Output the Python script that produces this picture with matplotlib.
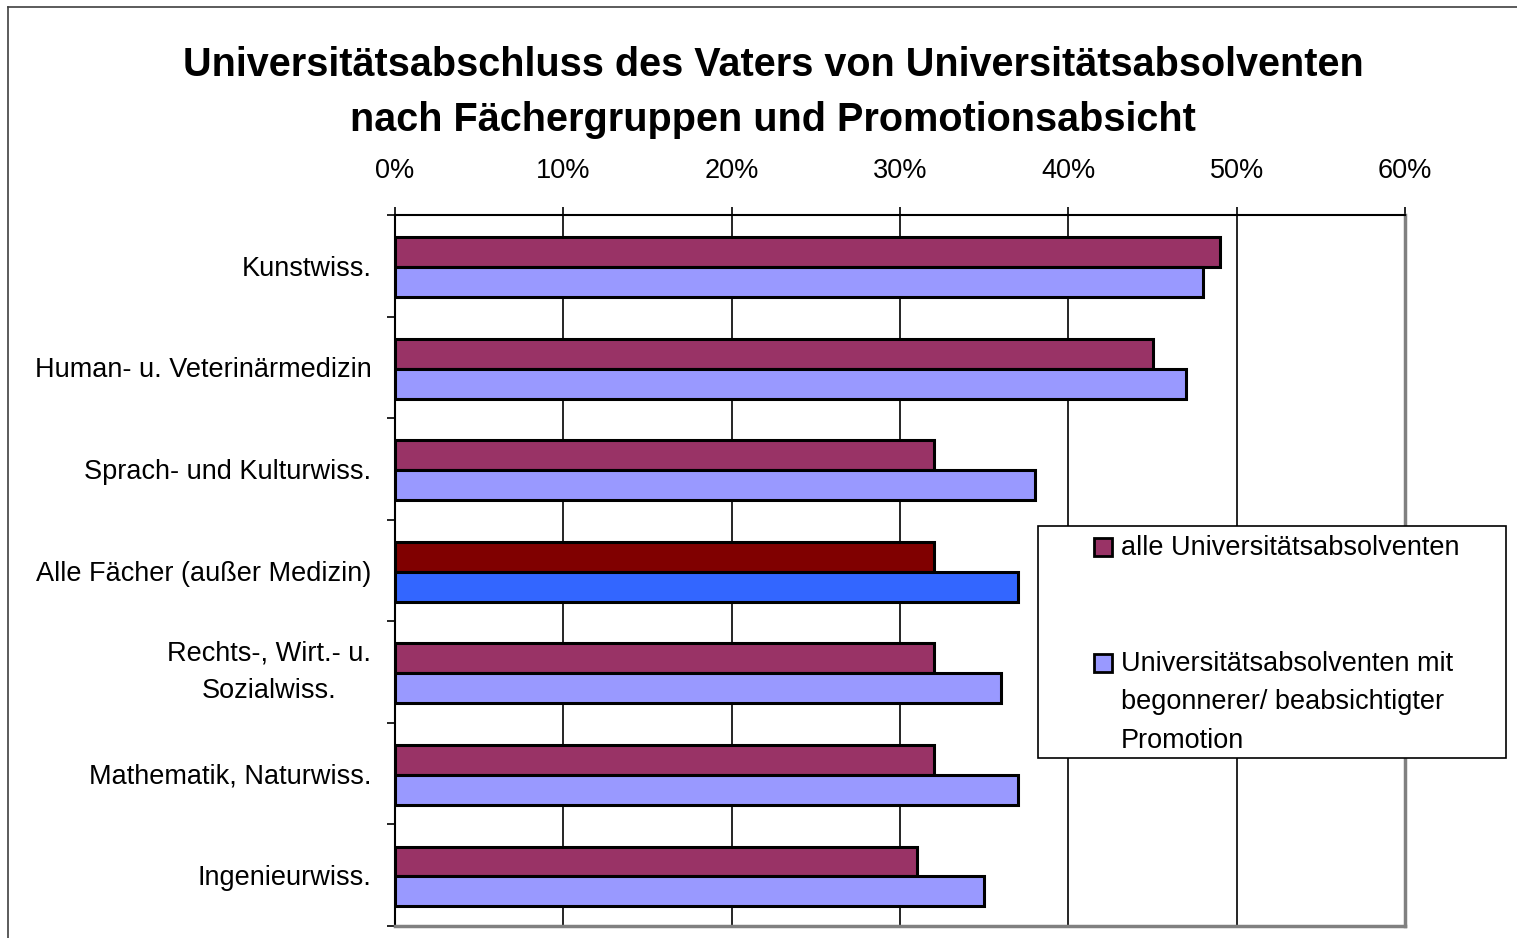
import numpy as np
import matplotlib.pyplot as plt
from matplotlib.patches import Rectangle
from matplotlib.lines import Line2D

plt.rcParams['font.family'] = ['Liberation Sans', 'DejaVu Sans']

categories = ['Kunstwiss.', 'Human- u. Veterinärmedizin', 'Sprach- und Kulturwiss.',
              'Alle Fächer (außer Medizin)', 'Rechts-, Wirt.- u.\nSozialwiss.',
              'Mathematik, Naturwiss.', 'Ingenieurwiss.']
alle = [49, 45, 32, 32, 32, 32, 31]
promotion = [48, 47, 38, 37, 36, 37, 35]
highlight = 'Alle Fächer (außer Medizin)'
xticks = [0, 10, 20, 30, 40, 50, 60]
label_alle = 'alle Universitätsabsolventen'
label_prom = 'Universitätsabsolventen mit\nbegonnerer/ beabsichtigter\nPromotion'

W, H = 1517, 938
fig = plt.figure(figsize=(W / 100, H / 100), dpi=100)


def fx(x):
    return x / W


def fy(y):
    return 1 - y / H


ax = fig.add_axes([fx(395), fy(926), fx(1405) - fx(395), fy(215) - fy(926)])

c_alle = ['#800000' if c == highlight else '#993366' for c in categories]
c_prom = ['#3366FF' if c == highlight else '#9999FF' for c in categories]
y = np.arange(len(categories))
h = 0.295
ax.barh(y - 0.135, alle, height=h, color=c_alle, edgecolor='black', linewidth=2.2, zorder=3)
ax.barh(y + 0.16, promotion, height=h, color=c_prom, edgecolor='black', linewidth=2.2, zorder=3)

ax.set_xlim(0, 60)
ax.set_ylim(len(categories) - 0.5, -0.5)
ax.xaxis.tick_top()
ax.set_xticks(xticks)
ax.set_xticklabels([f'{t}%' for t in xticks], fontsize=19.5)
ax.tick_params(axis='x', length=6, width=1.2, pad=16, color='black')
ax.grid(axis='x', color='black', linewidth=1.2, zorder=1)

ax.set_yticks(np.arange(-0.5, len(categories)))
ax.set_yticklabels([])
ax.tick_params(axis='y', which='major', length=6, width=1.2)
ax.set_yticks(y, minor=True)
ax.set_yticklabels(categories, minor=True, fontsize=19.5, multialignment='center')
ax.tick_params(axis='y', which='minor', length=0, pad=17)
for lbl in ax.get_yticklabels(minor=True):
    if '\n' in lbl.get_text():
        lbl.set_linespacing(1.6)
        lbl.set_verticalalignment('center')

ax.spines['left'].set_color('black')
ax.spines['left'].set_linewidth(1.5)
ax.spines['top'].set_color('black')
ax.spines['top'].set_linewidth(1.5)
ax.spines['right'].set_color('#808080')
ax.spines['right'].set_linewidth(2.5)
ax.spines['bottom'].set_color('#808080')
ax.spines['bottom'].set_linewidth(2.5)

# outer chart border (cut off at right and bottom)
fig.add_artist(Line2D([fx(8), fx(8)], [fy(7), 0], color='#404040', linewidth=1.2))
fig.add_artist(Line2D([fx(8), 1], [fy(7), fy(7)], color='#404040', linewidth=1.2))

fig.text(fx(773), fy(65), 'Universitätsabschluss des Vaters von Universitätsabsolventen',
         ha='center', va='center', fontsize=28.5, fontweight='bold')
fig.text(fx(773), fy(120), 'nach Fächergruppen und Promotionsabsicht',
         ha='center', va='center', fontsize=28.5, fontweight='bold')

# legend box
fig.add_artist(Rectangle((fx(1038), fy(758)), fx(1506) - fx(1038), fy(526) - fy(758),
                         transform=fig.transFigure, facecolor='white', edgecolor='black',
                         linewidth=1.2, zorder=5))
for top, col, lab in [(538, '#993366', label_alle), (654, '#9999FF', label_prom)]:
    fig.add_artist(Rectangle((fx(1094), fy(top + 18)), fx(18), 18 / H,
                             transform=fig.transFigure, facecolor=col, edgecolor='black',
                             linewidth=2, zorder=6))
    fig.text(fx(1121), fy(top - 3), lab, ha='left', va='top', fontsize=19.5,
             linespacing=1.62, zorder=6)

fig.savefig('out.png', dpi=100, facecolor='white')
